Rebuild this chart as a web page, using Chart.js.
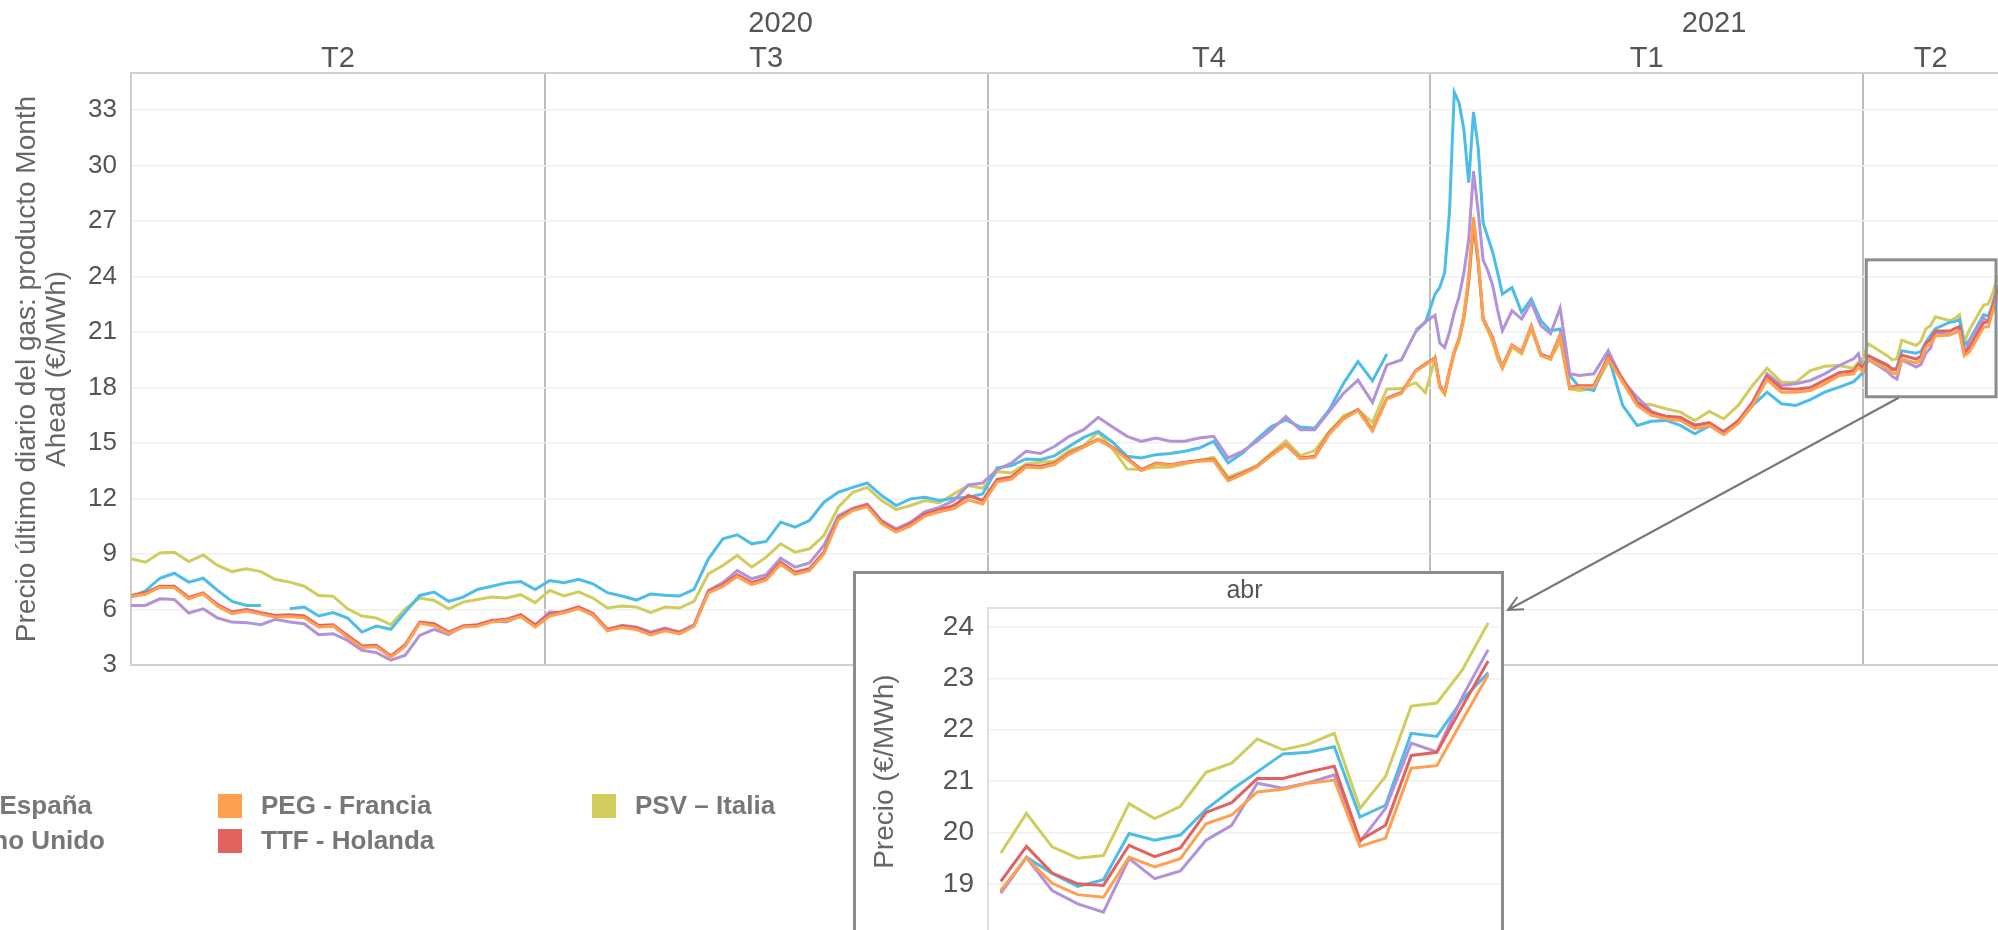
<!DOCTYPE html>
<html lang="es">
<head>
<meta charset="utf-8">
<title>Precio último diario del gas - Month Ahead</title>
<script src="https://cdn.jsdelivr.net/npm/chart.js@4.4.1/dist/chart.umd.min.js"></script>
<style>
    html, body { margin: 0; padding: 0; background: #fff; overflow: hidden; }
    body { width: 1998px; height: 930px; position: relative; }
    #graficoPrincipal { position: absolute; left: 0; top: 0; }
    #recuadro { position: absolute; left: 853px; top: 571px; width: 645px; height: 400px; border: 3px solid #8c8c8c; background: #fff; }
    #graficoAbril { position: absolute; left: 0; top: 0; }
    .leyenda { position: absolute; top: 788px; font-family: "Liberation Sans", Arial, sans-serif; font-weight: bold; font-size: 26px; color: #777; }
    .item { display: flex; align-items: center; height: 35px; white-space: nowrap; }
    .cuadro { width: 24px; height: 24px; margin-right: 19px; flex: none; }
    #col1 { right: 1893px; }
    #col1 .item { justify-content: flex-end; }
    #col1 .item:first-child { padding-right: 13px; }
    #col2 { left: 218px; }
    #col3 { left: 592px; }
</style>
</head>
<body>
<canvas id="graficoPrincipal" width="1998" height="930"></canvas>
<div id="recuadro"><canvas id="graficoAbril" width="645" height="392"></canvas></div>
<div class="leyenda" id="col1"></div>
<div class="leyenda" id="col2"></div>
<div class="leyenda" id="col3"></div>
<script>
// días desde el 1 de abril de 2020
const dias = [
    5, 8, 11, 14, 17, 20, 23, 26, 29, 32, 35, 38, 41, 44, 47, 50, 53, 56, 59, 62, 65, 68, 71, 74, 77, 80, 83, 86, 89, 92,
    95, 98, 101, 104, 107, 110, 113, 116, 119, 122, 125, 128, 131, 134, 137, 140, 143, 146, 149, 152, 155, 158, 161, 164, 167, 170, 173, 176, 179, 182,
    185, 188, 191, 194, 197, 200, 203, 206, 209, 212, 215, 218, 221, 224, 227, 230, 233, 236, 239, 242, 245, 248, 251, 254, 257, 260, 263, 266, 269, 272, 274,
    276, 277, 278, 279, 280, 281, 282, 283, 284, 285, 286, 287, 288, 289, 290, 292, 294, 296, 298, 300, 302, 304, 306, 309, 312, 315, 318, 321, 324, 327, 330, 333, 336, 339, 342, 345, 348, 351, 354, 357, 360, 363, 364,
    365, 366, 370, 371, 372, 373, 376, 377, 378, 379, 380, 383, 384, 385, 386, 387, 390, 391, 392, 393
];
const diasAbril = ["1", "2", "6", "7", "8", "9", "12", "13", "14", "15", "16", "19", "20", "21", "22", "23", "26", "27", "28", "29"];

const limitesTrimestre = [5, 91, 183, 275, 365, 393];
const etiquetasTrimestre = ["T2", "T3", "T4", "T1", "T2"];
const limitesAnio = [5, 275, 393];
const etiquetasAnio = ["2020", "2021"];
const ticksPrecio = [3, 6, 9, 12, 15, 18, 21, 24, 27, 30, 33];
const ticksAbril = [19, 20, 21, 22, 23, 24];
const rangoDetalle = [17.5, 24.9];

const pvbEspana = [
    6.67, 7.01, 7.69, 7.96, 7.48, 7.69, 7.03, 6.44, 6.22, 6.22, null, 6.04, 6.13, 5.65, 5.83, 5.54, 4.78, 5.11, 4.93, 5.86, 6.76, 6.94, 6.44, 6.67, 7.08, 7.26, 7.44, 7.51, 7.08, 7.57,
    7.45, 7.63, 7.39, 6.91, 6.73, 6.51, 6.84, 6.77, 6.73, 7.09, 8.74, 9.82, 10.04, 9.55, 9.68, 10.72, 10.45, 10.81, 11.80, 12.34, 12.60, 12.84, 12.16, 11.62, 11.98, 12.07, 11.89, 12.01, 12.07, 12.25,
    13.65, 13.78, 14.14, 14.10, 14.32, 14.82, 15.30, 15.63, 15.04, 14.28, 14.19, 14.37, 14.43, 14.55, 14.73, 15.09, 13.92, 14.46, 15.21, 15.89, 16.25, 15.86, 15.80, 16.79, 18.23, 19.40, 18.36, 19.81, null, 21.11, 21.51,
    23.05, 23.41, 24.22, 27.45, 33.96, 33.38, 31.95, 29.07, 32.90, 30.90, 26.90, 26.11, 25.30, 24.22, 23.05, 23.40, 22.06, 22.78, 21.61, 21.07, 21.16, 18.65, 18.02, 17.84, 19.73, 17.03, 15.95, 16.17, 16.22, 15.95, 15.50, 15.92, 15.63, 16.13, 17.03, 17.75, 17.12, 17.03, 17.35, 17.75, 18.02, 18.32, 18.56,
    18.84, 19.52, 19.20, 18.95, 19.08, 19.98, 19.85, 19.95, 20.45, 20.83, 21.18, 21.53, 21.56, 21.67, 20.30, 20.53, 21.93, 21.87, 22.59, 23.11
];
const nbpReinoUnido = [
    6.22, 6.22, 6.58, 6.54, 5.81, 6.04, 5.54, 5.32, 5.29, 5.18, 5.47, 5.32, 5.23, 4.64, 4.69, 4.33, 3.80, 3.67, 3.26, 3.53, 4.60, 4.93, 4.64, 5.11, 5.14, 5.41, 5.32, 5.65, 5.14, 5.86,
    5.83, 6.08, 5.69, 4.88, 5.15, 5.06, 4.79, 5.00, 4.79, 5.15, 7.03, 7.45, 8.11, 7.66, 7.88, 8.77, 8.29, 8.52, 9.46, 11.08, 11.47, 11.71, 10.81, 10.36, 10.72, 11.29, 11.52, 11.89, 12.73, 12.84,
    13.56, 13.92, 14.55, 14.43, 14.82, 15.36, 15.72, 16.39, 15.86, 15.36, 15.09, 15.27, 15.09, 15.09, 15.27, 15.36, 14.19, 14.55, 15.09, 15.72, 16.43, 15.72, 15.72, 16.70, 17.69, 18.40, 17.19, 19.22, 19.49, 21.02, 21.56,
    21.90, 20.40, 20.16, 21.00, 22.06, 22.90, 24.20, 26.00, 29.70, 27.45, 24.90, 24.30, 23.50, 22.20, 21.07, 22.15, 21.70, 22.60, 21.34, 20.90, 22.30, 18.74, 18.65, 18.74, 19.99, 18.38, 17.48, 16.71, 16.40, 16.31, 15.99, 16.04, 15.59, 16.13, 17.21, 18.74, 18.11, 18.20, 18.38, 18.74, 19.19, 19.55, 19.82,
    18.82, 19.51, 18.87, 18.61, 18.45, 19.49, 19.10, 19.25, 19.85, 20.14, 20.96, 20.86, 20.97, 21.12, 19.82, 20.47, 21.74, 21.57, 22.65, 23.56
];
const pegFrancia = [
    6.70, 6.82, 7.20, 7.18, 6.58, 6.85, 6.18, 5.78, 5.92, 5.75, 5.60, 5.62, 5.55, 5.05, 5.10, 4.50, 3.95, 3.98, 3.42, 4.02, 5.25, 5.12, 4.70, 5.05, 5.10, 5.33, 5.40, 5.62, 5.05, 5.65,
    5.82, 6.05, 5.70, 4.85, 5.02, 4.92, 4.62, 4.85, 4.68, 5.08, 6.90, 7.25, 7.78, 7.35, 7.60, 8.45, 7.90, 8.10, 9.00, 10.85, 11.35, 11.55, 10.65, 10.18, 10.52, 11.05, 11.28, 11.45, 11.92, 11.70,
    12.90, 13.05, 13.70, 13.65, 13.85, 14.40, 14.78, 15.18, 14.72, 14.12, 13.50, 13.88, 13.80, 13.92, 14.02, 14.05, 12.95, 13.30, 13.70, 14.32, 14.88, 14.15, 14.22, 15.48, 16.30, 16.75, 15.65, 17.38, 17.68, 18.88, 19.22,
    19.55, 18.02, 17.66, 18.83, 19.91, 20.62, 21.88, 24.00, 27.20, 24.90, 21.70, 21.16, 20.62, 19.73, 19.10, 20.27, 19.91, 21.34, 19.73, 19.55, 20.80, 17.93, 18.02, 18.02, 19.55, 18.29, 17.03, 16.49, 16.31, 16.22, 15.77, 15.95, 15.45, 16.04, 17.03, 18.43, 17.75, 17.75, 17.84, 18.20, 18.65, 18.74, 19.10,
    18.87, 19.51, 19.01, 18.79, 18.74, 19.52, 19.33, 19.49, 20.17, 20.34, 20.79, 20.84, 20.96, 21.02, 19.73, 19.89, 21.25, 21.30, 22.19, 23.07
];
const ttfHolanda = [
    6.76, 6.90, 7.26, 7.26, 6.65, 6.90, 6.26, 5.86, 6.00, 5.83, 5.68, 5.72, 5.65, 5.14, 5.18, 4.60, 4.03, 4.06, 3.49, 4.10, 5.32, 5.23, 4.78, 5.11, 5.18, 5.41, 5.47, 5.72, 5.18, 5.75,
    5.90, 6.14, 5.78, 4.93, 5.11, 5.00, 4.70, 4.93, 4.75, 5.15, 6.98, 7.34, 7.88, 7.45, 7.70, 8.56, 8.02, 8.20, 9.10, 10.93, 11.44, 11.65, 10.75, 10.27, 10.63, 11.17, 11.40, 11.62, 12.16, 11.89,
    13.03, 13.17, 13.78, 13.74, 13.92, 14.46, 14.82, 15.21, 14.77, 14.19, 13.56, 13.92, 13.83, 13.96, 14.06, 14.10, 13.03, 13.36, 13.74, 14.37, 14.91, 14.19, 14.28, 15.54, 16.34, 16.80, 15.72, 17.42, 17.73, 18.92, 19.27,
    19.60, 18.10, 17.70, 18.90, 19.95, 20.65, 21.85, 23.80, 26.95, 24.70, 21.75, 21.20, 20.70, 19.80, 19.15, 20.30, 19.95, 21.30, 19.80, 19.60, 20.85, 18.00, 18.10, 18.10, 19.65, 18.45, 17.20, 16.65, 16.45, 16.40, 15.95, 16.10, 15.60, 16.20, 17.20, 18.60, 17.95, 17.90, 18.00, 18.40, 18.80, 18.90, 19.25,
    19.05, 19.73, 19.21, 19.00, 18.97, 19.75, 19.53, 19.70, 20.39, 20.58, 21.05, 21.05, 21.18, 21.29, 19.85, 20.14, 21.50, 21.56, 22.46, 23.34
];
const psvItalia = [
    8.74, 8.56, 9.06, 9.10, 8.59, 8.95, 8.38, 8.05, 8.20, 8.05, 7.62, 7.48, 7.26, 6.76, 6.72, 6.04, 5.65, 5.54, 5.18, 6.04, 6.62, 6.49, 6.04, 6.40, 6.54, 6.67, 6.62, 6.80, 6.37, 7.03,
    6.73, 6.95, 6.62, 6.08, 6.19, 6.14, 5.83, 6.14, 6.08, 6.44, 7.93, 8.38, 8.92, 8.29, 8.83, 9.55, 9.10, 9.28, 10.00, 11.53, 12.34, 12.60, 11.89, 11.40, 11.62, 11.89, 11.76, 12.25, 12.70, 12.55,
    13.45, 13.38, 13.87, 13.96, 14.03, 14.59, 14.86, 15.57, 14.68, 13.60, 13.56, 13.69, 13.69, 13.87, 14.05, 14.23, 13.16, 13.45, 13.78, 14.46, 15.12, 14.32, 14.59, 15.61, 16.47, 16.80, 16.11, 17.91, 17.94, 18.26, 17.73,
    19.55, 18.02, 17.66, 18.83, 19.82, 20.53, 21.70, 23.60, 26.70, 24.76, 21.61, 21.07, 20.44, 19.55, 19.01, 20.18, 19.82, 21.16, 19.73, 19.51, 20.53, 17.93, 17.84, 17.93, 19.37, 18.47, 17.12, 17.07, 16.85, 16.67, 16.22, 16.71, 16.31, 17.03, 18.11, 19.04, 18.29, 18.29, 18.92, 19.15, 19.19, 19.04, 19.37,
    19.60, 20.37, 19.72, 19.50, 19.55, 20.56, 20.27, 20.51, 21.17, 21.35, 21.82, 21.61, 21.72, 21.93, 20.47, 21.09, 22.46, 22.52, 23.17, 24.08
];

// el primero se dibuja encima
const series = [
    { nombre: "PEG - Francia", valores: pegFrancia, color: "#ff9f50" },
    { nombre: "TTF - Holanda", valores: ttfHolanda, color: "#e2625f" },
    { nombre: "NBP - Reino Unido", valores: nbpReinoUnido, color: "#b292d8" },
    { nombre: "PVB - España", valores: pvbEspana, color: "#4cbce8" },
    { nombre: "PSV – Italia", valores: psvItalia, color: "#d0cd5e" },
];

Chart.defaults.font.family = "'Liberation Sans', Arial, sans-serif";
Chart.defaults.color = "#555";

const centros = (limites) => limites.slice(0, -1).map((v, i) => (v + limites[i + 1]) / 2);

// leyenda
const columnas = { col1: ["PVB - España", "NBP - Reino Unido"], col2: ["PEG - Francia", "TTF - Holanda"], col3: ["PSV – Italia"] };
for (const id in columnas) {
    const caja = document.getElementById(id);
    for (const nombre of columnas[id]) {
        const s = series.find((serie) => serie.nombre === nombre);
        const item = document.createElement("div");
        item.className = "item";
        item.innerHTML = `<span class="cuadro" style="background:${s.color}"></span><span>${nombre}</span>`;
        caja.appendChild(item);
    }
}

const detalleAbril = {
    id: "detalleAbril",
    afterDatasetsDraw(chart) {
        const { ctx, chartArea } = chart;
        const x = chart.scales.x;
        const y = chart.scales.y;
        const izq = x.getPixelForValue(limitesTrimestre[4]) + 3;
        const der = chartArea.right - 2;
        const arriba = y.getPixelForValue(rangoDetalle[1]);
        const abajo = y.getPixelForValue(rangoDetalle[0]);
        ctx.save();
        ctx.strokeStyle = "#8c8c8c";
        ctx.lineWidth = 3;
        ctx.strokeRect(izq, arriba, der - izq, abajo - arriba);

        // flecha hacia el recuadro de abril
        const r = document.getElementById("recuadro").getBoundingClientRect();
        const x0 = izq + (der - izq) * 0.25;
        const y0 = abajo + 1;
        const x1 = r.right + 4;
        const y1 = r.top + 39;
        const ang = Math.atan2(y1 - y0, x1 - x0);
        ctx.strokeStyle = "#777";
        ctx.lineWidth = 2;
        ctx.beginPath();
        ctx.moveTo(x0, y0);
        ctx.lineTo(x1, y1);
        ctx.moveTo(x1 - 16 * Math.cos(ang - 0.45), y1 - 16 * Math.sin(ang - 0.45));
        ctx.lineTo(x1, y1);
        ctx.lineTo(x1 - 16 * Math.cos(ang + 0.45), y1 - 16 * Math.sin(ang + 0.45));
        ctx.stroke();
        ctx.restore();
    },
};

const ctxPrincipal = document.getElementById("graficoPrincipal").getContext("2d");
new Chart(ctxPrincipal, {
    type: "line",
    data: {
        datasets: series.map((s) => ({
            label: s.nombre,
            data: dias.map((d, i) => ({ x: d, y: s.valores[i] })),
            borderColor: s.color,
            backgroundColor: s.color,
            borderWidth: 3,
            pointRadius: 0,
            tension: 0,
            fill: false,
        })),
    },
    options: {
        responsive: false,
        animation: false,
        devicePixelRatio: 1,
        layout: { autoPadding: false, padding: { left: 0, right: 0, top: 0, bottom: 265 } },
        plugins: { legend: { display: false }, tooltip: { enabled: false } },
        scales: {
            x: {
                type: "linear",
                position: "bottom",
                min: limitesTrimestre[0],
                max: limitesTrimestre[5],
                afterBuildTicks: (s) => { s.ticks = limitesTrimestre.slice(1, -1).map((v) => ({ value: v })); },
                afterFit: (s) => { s.height = 0; },
                ticks: { display: false },
                grid: { color: "#bdbdbd", lineWidth: 2, drawTicks: false },
                border: { color: "#d0d0d0", width: 2 },
            },
            trimestres: {
                type: "linear",
                position: "top",
                weight: 1,
                min: limitesTrimestre[0],
                max: limitesTrimestre[5],
                afterBuildTicks: (s) => { s.ticks = centros(limitesTrimestre).map((v) => ({ value: v })); },
                afterFit: (s) => { s.height = 35; },
                ticks: { callback: (v, i) => etiquetasTrimestre[i], autoSkip: false, maxRotation: 0, padding: -3, font: { size: 29 }, color: "#555" },
                grid: { display: false, drawTicks: false },
                border: { display: true, color: "#d0d0d0", width: 2 },
            },
            anios: {
                type: "linear",
                position: "top",
                weight: 2,
                min: limitesTrimestre[0],
                max: limitesTrimestre[5],
                afterBuildTicks: (s) => { s.ticks = centros(limitesAnio).map((v) => ({ value: v })); },
                afterFit: (s) => { s.height = 38; },
                ticks: { callback: (v, i) => etiquetasAnio[i], autoSkip: false, maxRotation: 0, padding: -3, font: { size: 29 }, color: "#555" },
                grid: { display: false, drawTicks: false },
                border: { display: false },
            },
            y: {
                min: 3,
                max: 35,
                afterBuildTicks: (s) => { s.ticks = ticksPrecio.map((v) => ({ value: v })); },
                afterFit: (s) => { s.width = 131; },
                ticks: { padding: 14, font: { size: 26 }, color: "#555" },
                grid: { color: "#f0f0f0", lineWidth: 1.5, drawTicks: false },
                border: { color: "#d0d0d0", width: 2 },
                title: {
                    display: true,
                    text: ["Precio último diario del gas: producto Month", "Ahead (€/MWh)"],
                    font: { size: 28, lineHeight: 1.05 },
                    color: "#666",
                    padding: { top: 13, bottom: 0 },
                },
            },
        },
    },
    plugins: [detalleAbril],
});

const ctxAbril = document.getElementById("graficoAbril").getContext("2d");
new Chart(ctxAbril, {
    type: "line",
    data: {
        labels: diasAbril,
        datasets: series.map((s) => ({
            label: s.nombre,
            data: s.valores.slice(-diasAbril.length),
            borderColor: s.color,
            borderWidth: 3,
            pointRadius: 0,
            tension: 0,
            fill: false,
        })),
    },
    options: {
        responsive: false,
        animation: false,
        devicePixelRatio: 1,
        layout: { autoPadding: false, padding: { left: 0, right: 0, top: 0, bottom: 10 } },
        plugins: { legend: { display: false }, tooltip: { enabled: false } },
        scales: {
            x: {
                position: "top",
                offset: true,
                afterFit: (s) => { s.height = 34; },
                ticks: { display: false },
                grid: { display: false, drawTicks: false },
                border: { color: "#e0e0e0", width: 2 },
                title: { display: true, text: "abr", font: { size: 25 }, color: "#555", padding: { top: 2, bottom: 0 } },
            },
            y: {
                min: 18,
                max: 24.37,
                afterBuildTicks: (s) => { s.ticks = ticksAbril.map((v) => ({ value: v })); },
                afterFit: (s) => { s.width = 132; },
                ticks: { padding: 14, font: { size: 28 }, color: "#555" },
                grid: { color: "#f0f0f0", lineWidth: 1.5, drawTicks: false },
                border: { color: "#e0e0e0", width: 2 },
                title: { display: true, text: "Precio (€/MWh)", font: { size: 28 }, color: "#666", padding: { top: 12, bottom: 0 } },
            },
        },
    },
});
</script>
</body>
</html>
